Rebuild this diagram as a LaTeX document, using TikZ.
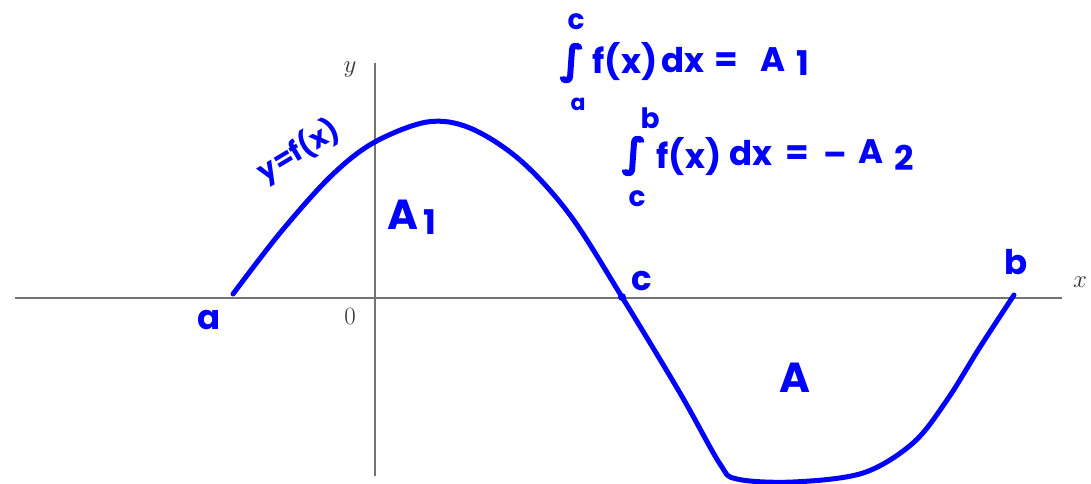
\documentclass[tikz,border=0pt]{standalone}
\usepackage{fontspec}
\newfontfamily\hand{Poppins}
\newfontfamily\symf{DejaVu Sans}[FakeBold=2.5]
\begin{document}
\begin{tikzpicture}[x=1pt,y=-1pt,
  axis/.style={draw=black!55,line width=1.8pt},
  ink/.style={draw=blue,line width=5pt,line cap=round,line join=round},
  hw/.style={text=blue,font=\hand\bfseries\fontsize{34}{36}\selectfont,inner sep=0pt},
  big/.style={text=blue,font=\hand\bfseries\fontsize{42}{44}\selectfont,inner sep=0pt},
  lim/.style={text=blue,font=\hand\bfseries\fontsize{28}{30}\selectfont,inner sep=0pt},
  intg/.style={text=blue,font=\symf\bfseries\fontsize{40}{42}\selectfont,inner sep=0pt},
  ax/.style={text=black!80,font=\fontsize{24}{26}\selectfont,inner sep=0pt}]
\useasboundingbox (0,0) rectangle (1091,483);
% axes
\coordinate (xl) at (15,298);
\coordinate (xr) at (1062,298);
\coordinate (yt) at (375,63);
\coordinate (yb) at (375,476);
\draw[axis] (xl) -- (xr);
\draw[axis] (yt) -- (yb);
\node[ax] (xlab) at (1080,282) {$x$};
\node[ax] (ylab) at (350,70) {$y$};
\node[ax] (zero) at (350,316) {$0$};
% curve
\coordinate (a) at (233,294);
\coordinate (c) at (622,297);
\coordinate (b) at (1014,295);
\draw[ink] plot[smooth,tension=0.55] coordinates {(233,294) (280,233) (330,177) (373,143) (427,122) (470,128) (520,160) (570,215) (622,297) (680,393) (720,464) (737,479) (793,482) (863,473) (913,443) (947,400) (980,347) (1014,295)};
\fill[blue] (c) circle (4pt);
% handwritten labels
\node[hw,font=\hand\bfseries\fontsize{28}{30}\selectfont,rotate=31] (yfx) at (299,151) {y=f(x)};
\node[big] (A1) at (403,215) {A};
\node[hw] (A1s) at (430,222) {1};
\node[hw] (la) at (209,320) {a};
\node[hw] (lc) at (642,281) {c};
\node[hw] (lb) at (1016,262) {b};
\node[big] (A2) at (795,378) {A};
% integral 1
\node[intg] (int1) at (572,63) {∫};
\node[lim] (up1) at (576,22) {c};
\node[lim,font=\hand\bfseries\fontsize{22}{24}\selectfont] (lo1) at (578,104) {a};
\node[hw] (f1) at (625,62) {f(x)};
\node[hw] (d1) at (683,60) {dx};
\node[hw] (e1) at (726,62) {=};
\node[hw] (a1) at (773,60) {A};
\node[hw] (n1) at (803,63) {1};
% integral 2
\node[intg] (int2) at (634,156) {∫};
\node[lim] (up2) at (650,118) {b};
\node[lim] (lo2) at (637,199) {c};
\node[hw] (f2) at (689,157) {f(x)};
\node[hw] (d2) at (751,153) {dx};
\node[hw] (e2) at (797,155) {=};
\node[hw] (m2) at (835,159) {–};
\node[hw] (a2) at (871,152) {A};
\node[hw] (n2) at (904,158) {2};
\end{tikzpicture}
\end{document}
